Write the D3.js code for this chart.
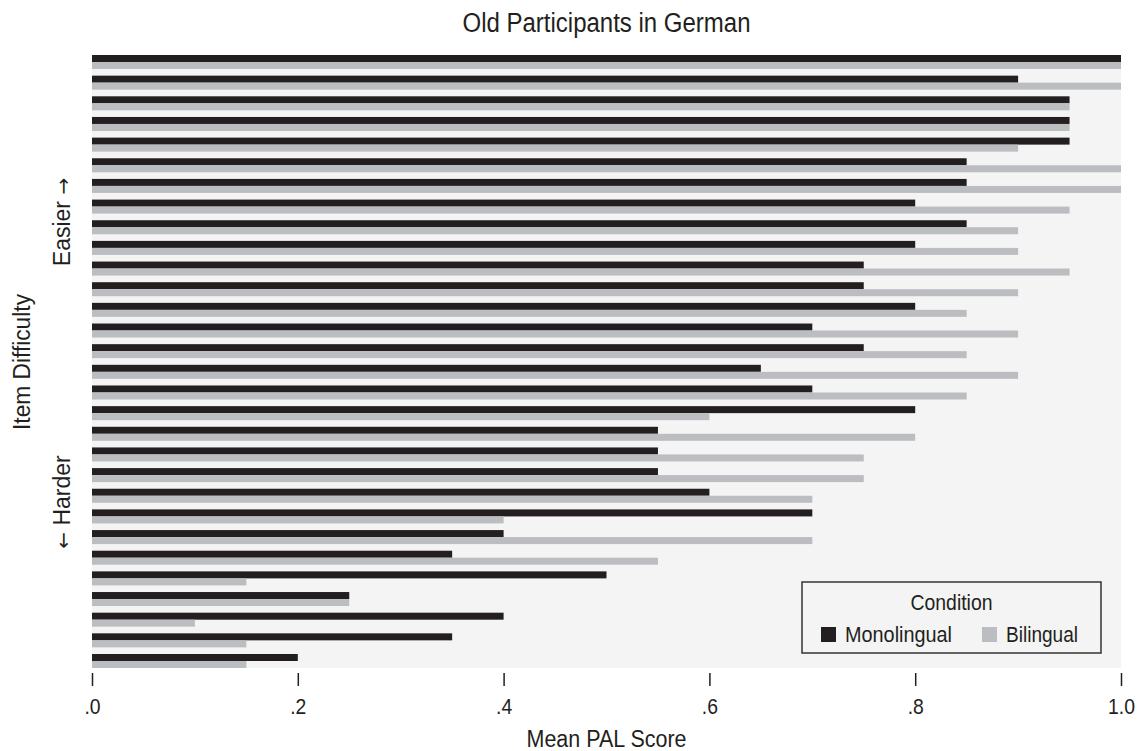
<!DOCTYPE html>
<html>
<head>
<meta charset="utf-8">
<script src="https://cdn.jsdelivr.net/npm/d3@7"></script>
<style>
  html, body { margin: 0; padding: 0; background: #ffffff; }
  svg text { font-family: "Liberation Sans Narrow", "Arial Narrow", "Liberation Sans", sans-serif; fill: #231f20; }
</style>
</head>
<body>
<svg id="chart" width="1140" height="751"></svg>
<script>
// Items ordered from easiest (top) to hardest (bottom)
const items = d3.range(1, 31).map(i => "Item " + i);
const seriesNames = ["Monolingual", "Bilingual"];
const monolingual = [1.0, 0.9, 0.95, 0.95, 0.95, 0.85, 0.85, 0.8, 0.85, 0.8,
                     0.75, 0.75, 0.8, 0.7, 0.75, 0.65, 0.7, 0.8, 0.55, 0.55,
                     0.55, 0.6, 0.7, 0.4, 0.35, 0.5, 0.25, 0.4, 0.35, 0.2];
const bilingual   = [1.0, 1.0, 0.95, 0.95, 0.9, 1.0, 1.0, 0.95, 0.9, 0.9,
                     0.95, 0.9, 0.85, 0.9, 0.85, 0.9, 0.85, 0.6, 0.8, 0.75,
                     0.75, 0.7, 0.4, 0.7, 0.55, 0.15, 0.25, 0.1, 0.15, 0.15];
const xTicks = [0, 0.2, 0.4, 0.6, 0.8, 1.0];
const xTickLabels = [".0", ".2", ".4", ".6", ".8", "1.0"];

const colors = { Monolingual: "#231f20", Bilingual: "#bcbdc1" };

const svg = d3.select("#chart");
const margin = { left: 92, right: 19, top: 55, bottom: 83 };
const W = 1140, H = 751;
const plotW = W - margin.left - margin.right;
const plotH = H - margin.top - margin.bottom;

const x = d3.scaleLinear().domain([0, 1]).range([0, plotW]);
const y = d3.scaleBand().domain(items).range([0, plotH]).paddingInner(0.322).paddingOuter(0);
const ySub = d3.scaleBand().domain(seriesNames).range([0, y.bandwidth()]).padding(0);

const g = svg.append("g").attr("transform", `translate(${margin.left},${margin.top})`);

// plot background
g.append("rect").attr("x", 0).attr("y", 0).attr("width", plotW).attr("height", plotH).attr("fill", "#f3f4f3");

const rows = items.map((it, i) => ({ item: it, Monolingual: monolingual[i], Bilingual: bilingual[i] }));

const groups = g.selectAll("g.item").data(rows).join("g")
  .attr("class", "item")
  .attr("transform", d => `translate(0,${y(d.item)})`);

groups.selectAll("rect").data(d => seriesNames.map(s => ({ s, v: d[s] }))).join("rect")
  .attr("x", 0)
  .attr("y", d => ySub(d.s))
  .attr("width", d => x(d.v))
  .attr("height", ySub.bandwidth())
  .attr("fill", d => colors[d.s]);

// condensed text helper: squeeze a label to a given width
function fit(sel, w) {
  return sel.attr("textLength", w).attr("lengthAdjust", "spacingAndGlyphs");
}

// x axis
const xAxis = d3.axisBottom(x).tickValues(xTicks)
  .tickFormat((d, i) => xTickLabels[i]).tickSize(13).tickPadding(12);
const ax = g.append("g").attr("transform", `translate(0,${plotH + 5})`).call(xAxis);
ax.select(".domain").remove();
ax.selectAll(".tick line").attr("stroke", "#231f20").attr("stroke-width", 1.5);
ax.selectAll(".tick text").attr("font-size", 22).attr("fill", "#231f20")
  .style("font-family", '"Liberation Sans Narrow", "Arial Narrow", "Liberation Sans", sans-serif')
  .attr("transform", "scale(0.88,1)");

// titles
fit(svg.append("text").attr("x", margin.left + plotW / 2 - 144).attr("y", 32)
  .attr("font-size", 27).text("Old Participants in German"), 288);
fit(svg.append("text").attr("x", margin.left + plotW / 2 - 80).attr("y", 747)
  .attr("font-size", 23).text("Mean PAL Score"), 160);
fit(svg.append("text").attr("transform", "translate(30,362) rotate(-90)")
  .attr("x", -68).attr("font-size", 23).text("Item Difficulty"), 136);

const easier = svg.append("text").attr("transform", "translate(70,222) rotate(-90)")
  .attr("text-anchor", "middle").attr("font-size", 23);
easier.append("tspan").text("Easier ");
easier.append("tspan").style("font-family", '"DejaVu Sans", sans-serif').attr("font-size", 20).text("\u2192");

const harder = svg.append("text").attr("transform", "translate(70,502) rotate(-90)")
  .attr("text-anchor", "middle").attr("font-size", 23);
harder.append("tspan").style("font-family", '"DejaVu Sans", sans-serif').attr("font-size", 20).text("\u2190");
harder.append("tspan").text(" Harder");

// legend
const lg = svg.append("g").attr("transform", "translate(802,582)");
lg.append("rect").attr("width", 299).attr("height", 71)
  .attr("fill", "#f3f4f3").attr("stroke", "#333333").attr("stroke-width", 1.5);
fit(lg.append("text").attr("x", 149.5 - 41).attr("y", 28)
  .attr("font-size", 22).text("Condition"), 82);
const legendX = { Monolingual: 19, Bilingual: 180 };
const legendW = { Monolingual: 107, Bilingual: 72 };
seriesNames.forEach(s => {
  lg.append("rect").attr("x", legendX[s]).attr("y", 45).attr("width", 15).attr("height", 15).attr("fill", colors[s]);
  fit(lg.append("text").attr("x", legendX[s] + 24).attr("y", 60).attr("font-size", 22).text(s), legendW[s]);
});
</script>
</body>
</html>
